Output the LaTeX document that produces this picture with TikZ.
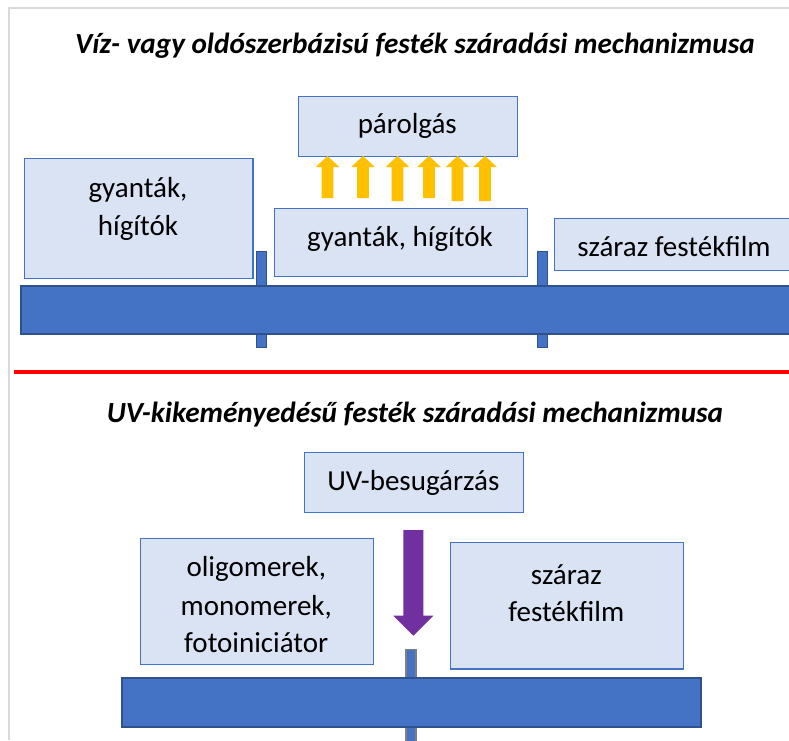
\documentclass[tikz,border=0pt]{standalone}
\usepackage{fontspec}
\setmainfont{Carlito}
\definecolor{boxfill}{HTML}{DAE3F3}
\definecolor{boxline}{HTML}{4472C4}
\definecolor{barfill}{HTML}{4472C4}
\definecolor{barline}{HTML}{2F528F}
\definecolor{arrowyellow}{HTML}{FFC000}
\definecolor{uvpurple}{HTML}{7030A0}
\definecolor{framegray}{HTML}{D9D9D9}
\definecolor{peggray}{HTML}{7F7F7F}
\begin{document}
\begin{tikzpicture}[x=1pt,y=-1pt,
  box/.style={draw=boxline, fill=boxfill, line width=1.2pt, inner sep=0pt, anchor=north west},
  bar/.style={draw=barline, fill=barfill, line width=2pt},
  peg/.style={draw=barline, fill=barfill, line width=1.6pt},
  lbl/.style={anchor=base, inner sep=0pt, font=\fontsize{29}{38}\selectfont},
  ttl/.style={anchor=base, inner sep=0pt, font=\fontsize{29.2}{36}\selectfont\bfseries\itshape},
  yarrow/.style={fill=arrowyellow},
  parrow/.style={fill=uvpurple}]
\useasboundingbox (0,0) rectangle (789,740);
\fill[white] (0,0) rectangle (789,740);
% frame
\draw[framegray, line width=2pt] (9,740) -- (9,8) -- (789,8);

% ---------- top section ----------
\node[ttl] (title1) at (415,53.5) {Víz- vagy oldószerbázisú festék száradási mechanizmusa};

\node[box, minimum width=218.7pt, minimum height=59.5pt] (parolgas) at (298,96) {};
\node[lbl] (parolgasT) at (407.3,133) {párolgás};

\node[box, minimum width=228.3pt, minimum height=120pt] (gyL) at (24,157.7) {};
\node[lbl] (gyL1) at (138,197.3) {gyanták,};
\node[lbl] (gyL2) at (138,235) {hígítók};

\node[box, minimum width=252.5pt, minimum height=68.2pt] (gyM) at (274,207.5) {};
\node[lbl] (gyMT) at (400,246) {gyanták, hígítók};

\node[box, minimum width=240pt, minimum height=52pt] (sz1) at (554,218) {};
\node[lbl] (sz1T) at (674,256) {száraz festékfilm};

% evaporation arrows
\foreach \cx/\by [count=\i] in {327.5/198, 363/198, 397.5/201, 429/198, 457.5/201, 485/201}{
  \fill[yarrow] (\cx-5.8,\by) -- (\cx-5.8,167) -- (\cx-11.8,167) -- (\cx,156)
     -- (\cx+11.8,167) -- (\cx+5.8,167) -- (\cx+5.8,\by) -- cycle;
}

% pegs and substrate
\draw[peg] (256.5,251.5) rectangle (266.5,347.5);
\draw[peg] (537.5,251.5) rectangle (547.5,347.5);
\node[bar, minimum width=790pt, minimum height=48pt, inner sep=0pt, anchor=north west] (bar1) at (20,285) {};

% separator
\draw[red, line width=4pt] (14,371.5) -- (789,371.5);

% ---------- bottom section ----------
\node[ttl] (title2) at (415,422) {UV-kikeményedésű festék száradási mechanizmusa};

\node[box, minimum width=218.7pt, minimum height=60pt] (uv) at (304,451.7) {};
\node[lbl] (uvT) at (413.3,490) {UV-besugárzás};

\fill[parrow] (403.3,530) -- (423.3,530) -- (423.3,615.7) -- (433.3,615.7)
   -- (413.3,635.7) -- (393.3,615.7) -- (403.3,615.7) -- cycle;

\node[box, minimum width=232.7pt, minimum height=126.3pt] (olig) at (140,537.7) {};
\node[lbl] (olig1) at (256.3,576.7) {oligomerek,};
\node[lbl] (olig2) at (256.3,615.7) {monomerek,};
\node[lbl] (olig3) at (256.3,652.7) {fotoiniciátor};

\node[box, minimum width=232.7pt, minimum height=126.6pt] (sz2) at (450,541.7) {};
\node[lbl] (sz2a) at (566.3,584) {száraz};
\node[lbl] (sz2b) at (566.3,621.7) {festékfilm};

\draw[fill=barfill, draw=peggray, line width=1.6pt] (406,649.5) rectangle (416,760);
\node[bar, minimum width=579.3pt, minimum height=48.7pt, inner sep=0pt, anchor=north west] (bar2) at (120.7,677.3) {};
\end{tikzpicture}
\end{document}
